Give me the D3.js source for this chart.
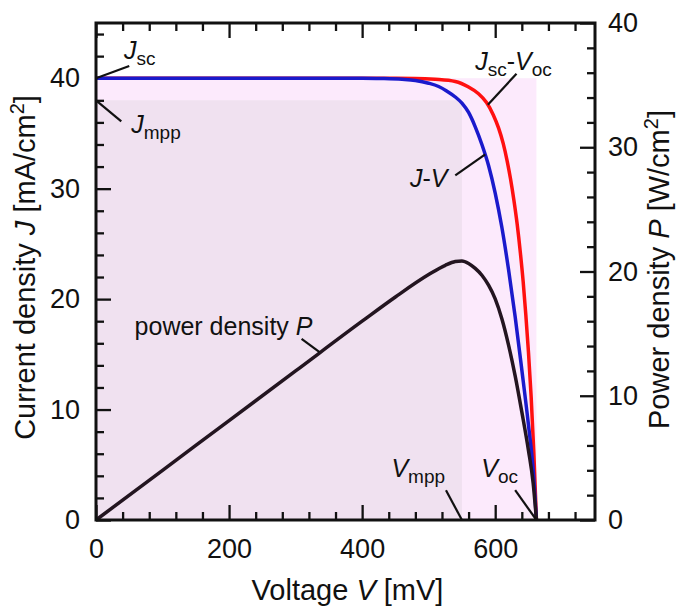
<!DOCTYPE html>
<html><head><meta charset="utf-8">
<script src="https://cdn.jsdelivr.net/npm/d3@7"></script>
<style>
body{margin:0;background:#fff;}
svg{display:block;font-family:"Liberation Sans",Arial,Helvetica,sans-serif;}
</style></head>
<body><svg id="c" width="677" height="608"></svg>
<script>
// ---- data ----
const jvVoltage   = [0,200,400,430,460,480,500,515,527,540,550,560,570,580,590,600,610,620,630,640,650,657,662];
const jvCurrent   = [40,40,40,39.97,39.9,39.8,39.55,39.25,38.85,38.3,37.75,36.9,35.6,34.0,32.1,29.6,26.5,22.7,18.4,13.6,8.6,4.6,0];
const idVoltage   = [0,200,400,480,510,540,560,575,587,597,605,612,618,623,628,633,638,642,646,650,654,658,662];
const idCurrent   = [40,40,40,39.98,39.9,39.7,39.2,38.6,37.8,36.7,35.5,34.1,32.5,30.9,29.0,26.8,24.1,21.6,18.6,15.2,11.2,6.2,0];
const pVoltage    = [0,100,200,300,400,450,500,525,540,550,560,570,580,590,600,610,620,630,640,650,657,662];
const pDensity    = [0,4.0,8.0,12.0,16.0,17.95,19.75,20.5,20.8,20.85,20.65,20.25,19.7,18.9,17.8,16.2,14.1,11.6,8.7,5.6,3.0,0];
const Jsc = 40, Voc = 662, Jmpp = 38, Vmpp = 550;
const xTicks  = [0,200,400,600];
const jTicks  = [0,10,20,30,40];
const pTicks  = [0,10,20,30,40];

const svg = d3.select("#c");
const L=96, R=595, T=23, B=520;
const x  = d3.scaleLinear([0,750],[L,R]);
const yJ = d3.scaleLinear([0,45],[B,T]);
const yP = d3.scaleLinear([0,40],[B,T]);

// shaded rectangles
svg.append("rect").attr("x",x(0)).attr("y",yJ(Jsc)).attr("width",x(Voc)-x(0)).attr("height",yJ(0)-yJ(Jsc)).attr("fill","#fceafc");
svg.append("rect").attr("x",x(0)).attr("y",yJ(Jmpp)).attr("width",x(Vmpp)-x(0)).attr("height",yJ(0)-yJ(Jmpp)).attr("fill","#f0e1f0");

// axes with inward ticks
const minorX = d3.range(0,751,40).filter(v=>v%200!==0);
const minorJ = d3.range(0,46,2).filter(v=>v%10!==0);
const minorP = d3.range(0,41,2).filter(v=>v%10!==0);
function ax(gen, tx, ty){
  const g = svg.append("g").attr("transform",`translate(${tx},${ty})`).call(gen);
  g.select(".domain").remove();
  g.selectAll(".tick line").attr("stroke","#111").attr("stroke-width",2.3);
  g.selectAll("text").attr("fill","#111").style("font-size","27px").style("font-family","'Liberation Sans',Arial,sans-serif");
  return g;
}
ax(d3.axisBottom(x).tickValues(xTicks).tickSize(-15).tickPadding(19).tickFormat(d3.format("d")),0,B);
ax(d3.axisBottom(x).tickValues(minorX).tickSize(-8).tickFormat(""),0,B);
ax(d3.axisTop(x).tickValues(xTicks).tickSize(-15).tickFormat(""),0,T);
ax(d3.axisTop(x).tickValues(minorX).tickSize(-8).tickFormat(""),0,T);
ax(d3.axisLeft(yJ).tickValues(jTicks).tickSize(-15).tickPadding(16).tickFormat(d3.format("d")),L,0);
ax(d3.axisLeft(yJ).tickValues(minorJ).tickSize(-8).tickFormat(""),L,0);
ax(d3.axisRight(yP).tickValues(pTicks).tickSize(-15).tickPadding(13).tickFormat(d3.format("d")),R,0);
ax(d3.axisRight(yP).tickValues(minorP).tickSize(-8).tickFormat(""),R,0);

// curves
const mk = (xs,ys)=>xs.map((v,i)=>[v,ys[i]]);
const lineJ = d3.line().x(d=>x(d[0])).y(d=>yJ(d[1])).curve(d3.curveMonotoneX);
const lineP = d3.line().x(d=>x(d[0])).y(d=>yP(d[1])).curve(d3.curveMonotoneX);
svg.append("path").attr("d",lineJ(mk(idVoltage,idCurrent))).attr("fill","none").attr("stroke","#ff1010").attr("stroke-width",3.5);
svg.append("path").attr("d",lineJ(mk(jvVoltage,jvCurrent))).attr("fill","none").attr("stroke","#1a1acc").attr("stroke-width",3.5);
svg.append("path").attr("d",lineP(mk(pVoltage,pDensity))).attr("fill","none").attr("stroke","#231520").attr("stroke-width",3.5);

// frame
svg.append("rect").attr("x",L).attr("y",T).attr("width",R-L).attr("height",B-T).attr("fill","none").attr("stroke","#111").attr("stroke-width",3);

// annotations: leader lines in data units (V, J)
const leaders = [
  [[0,40],[50,41.1]],
  [[0,38],[38,36.1]],
  [[632,40.4],[589,37.6]],
  [[540,31.2],[585,33.1]],
  [[309,16.4],[336,15.2]],
  [[526,2.7],[Vmpp,0]],
  [[630,2.7],[Voc,0]]
];
leaders.forEach(l=>svg.append("line").attr("x1",x(l[0][0])).attr("y1",yJ(l[0][1])).attr("x2",x(l[1][0])).attr("y2",yJ(l[1][1])).attr("stroke","#111").attr("stroke-width",2.2));

const labels = [
  {v:42, j:41.7, parts:[["J","i"],["sc","s"]]},
  {v:53, j:35.0, parts:[["J","i"],["mpp","s"]]},
  {v:570,j:40.75,parts:[["J","i"],["sc","s"],["-",""],["V","i"],["oc","s"]]},
  {v:472,j:30.15,parts:[["J","i"],["-",""],["V","i"]]},
  {v:58, j:16.75,parts:[["power density ",""],["P","i"]]},
  {v:444,j:3.9, parts:[["V","i"],["mpp","s"]]},
  {v:579,j:3.9, parts:[["V","i"],["oc","s"]]}
];
labels.forEach(lb=>{
  const t = svg.append("text").attr("x",x(lb.v)).attr("y",yJ(lb.j)).attr("fill","#111").style("font-size","25px");
  let shifted=false;
  lb.parts.forEach(p=>{
    const ts = t.append("tspan").text(p[0]);
    if(p[1]==="i") ts.style("font-style","italic");
    if(p[1]==="s"){ ts.style("font-size","19px"); if(!shifted){ts.attr("dy",6); shifted=true;} }
    else if(shifted){ ts.attr("dy",-6); shifted=false; }
  });
});

// axis titles
const xt = svg.append("text").attr("x",(L+R)/2+2).attr("y",600).attr("text-anchor","middle").attr("fill","#111").style("font-size","29px");
xt.append("tspan").text("Voltage ");
xt.append("tspan").text("V").style("font-style","italic");
xt.append("tspan").text(" [mV]");

const yt = svg.append("text").attr("transform",`translate(35,${(T+B)/2-4}) rotate(-90)`).attr("text-anchor","middle").attr("fill","#111").style("font-size","29px");
yt.append("tspan").text("Current density ");
yt.append("tspan").text("J").style("font-style","italic");
yt.append("tspan").text(" [mA/cm");
yt.append("tspan").text("2").style("font-size","20px").attr("dy",-11);
yt.append("tspan").text("]").attr("dy",11);

const pt = svg.append("text").attr("transform",`translate(669,${(T+B)/2-2}) rotate(-90)`).attr("text-anchor","middle").attr("fill","#111").style("font-size","29px");
pt.append("tspan").text("Power density ");
pt.append("tspan").text("P").style("font-style","italic");
pt.append("tspan").text(" [W/cm");
pt.append("tspan").text("2").style("font-size","20px").attr("dy",-11);
pt.append("tspan").text("]").attr("dy",11);
</script></body></html>
